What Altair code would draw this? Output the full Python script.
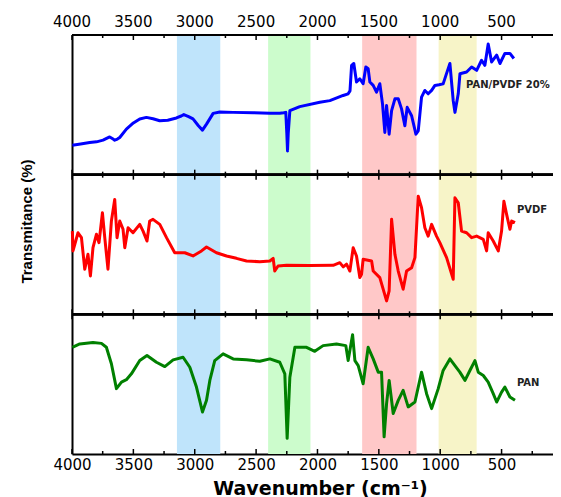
import altair as alt
import pandas as pd

# ---------------- data ----------------
SERIES = ["PAN/PVDF 20%", "PVDF", "PAN"]
COLORS = ["#0000FF", "#FF0000", "#008000"]
OFFSETS = [2, 1, 0]  # stacking position of each spectrum (panel index)

# (wavenumber cm-1, relative transmittance within the panel, 0-100)
PANPVDF = [
    (3997, 21.1), (3930, 22), (3856, 23), (3800, 23.5), (3747, 24.7), (3693, 27),
    (3665, 25.5), (3652, 24.7), (3630, 25.5), (3611, 26.6), (3557, 32.6), (3500, 37),
    (3448, 39.9), (3394, 41), (3340, 40), (3285, 38.6), (3220, 39), (3149, 40.6),
    (3110, 42), (3089, 43), (3050, 41.5), (3014, 39.9), (2970, 35), (2937, 31.9),
    (2904, 36.2), (2870, 41), (2850, 43.9), (2796, 44.9), (2687, 44.6), (2524, 44.4),
    (2388, 43.9), (2307, 43.9), (2275, 44.3), (2258, 44.6), (2250, 30), (2244, 17),
    (2238, 30), (2225, 45.8), (2144, 48.7), (1981, 51.8), (1899, 53), (1791, 56.7),
    (1750, 57.9), (1735, 60), (1722, 78.3), (1704, 79.6), (1682, 66.3), (1655, 68.7),
    (1628, 65.1), (1606, 77.1), (1587, 75.8), (1573, 66.3), (1546, 63.9), (1519, 59.1),
    (1492, 65.1), (1470, 50.7), (1451, 30.2), (1437, 49.5), (1416, 29), (1396, 45.8),
    (1369, 54.3), (1342, 54.3), (1315, 47.1), (1288, 35), (1269, 48.2), (1233, 42.2),
    (1198, 29), (1179, 31.4), (1152, 55.5), (1125, 60.3), (1098, 57.9), (1070, 60.3),
    (1043, 63.9), (1010, 64.4), (976, 65), (950, 72), (921, 79.6), (894, 53),
    (880, 44.6), (853, 57.9), (839, 72.3), (785, 73.5), (744, 77.1), (703, 74.7),
    (663, 81.9), (636, 78.3), (609, 93.5), (581, 80.7), (540, 85.6), (513, 79.6),
    (473, 86.8), (432, 86.8), (400, 83.2),
]

PVDF = [
    (3997, 59.6), (3992, 45.4), (3951, 58.4), (3923, 54.9), (3896, 32.3), (3870, 43),
    (3850, 27.5), (3829, 47.7), (3801, 57.3), (3780, 51.3), (3752, 72.7), (3733, 54.9),
    (3707, 32.3), (3679, 66.8), (3652, 82.3), (3633, 54.9), (3611, 66.8), (3584, 60.9),
    (3570, 47.7), (3543, 62), (3503, 58.4), (3448, 64.4), (3421, 59.6), (3389, 52.5),
    (3367, 66.8), (3340, 68), (3285, 64.4), (3230, 54.9), (3163, 44.1), (3081, 44.1),
    (3014, 41.8), (2945, 45.4), (2904, 48.2), (2823, 44.1), (2741, 41.8), (2660, 40.1),
    (2578, 38.2), (2470, 37.7), (2388, 38.2), (2361, 40.1), (2348, 31), (2321, 34.6),
    (2252, 35.1), (2062, 34.9), (1872, 35.1), (1818, 37), (1790, 34), (1763, 35.9),
    (1736, 31), (1709, 47.7), (1682, 41.8), (1655, 26.3), (1641, 28.7), (1628, 39.4),
    (1559, 38.2), (1546, 31), (1492, 26.3), (1437, 9.6), (1416, 16.8), (1396, 68),
    (1369, 43), (1342, 31), (1302, 18), (1274, 31), (1233, 33.4), (1206, 40.6),
    (1179, 84.6), (1152, 76.3), (1125, 62), (1098, 56), (1070, 64.4), (1030, 56),
    (1003, 51.3), (948, 40.6), (894, 25.1), (880, 83.4), (853, 79.9), (826, 59.6),
    (785, 58.4), (744, 54.9), (703, 56), (649, 53.7), (622, 45.4), (609, 58.4),
    (568, 52.5), (527, 45.4), (500, 59.6), (481, 81), (459, 71.6), (432, 60.9),
    (418, 66.8), (391, 65.6),
]

PAN = [
    (3997, 76.4), (3937, 78.8), (3829, 79.9), (3760, 79.2), (3720, 76.4), (3679, 64.6),
    (3638, 46.8), (3597, 51.5), (3557, 53.2), (3516, 57.4), (3448, 66.9), (3389, 70.5),
    (3312, 65.7), (3244, 62.6), (3176, 67.4), (3095, 69.3), (3040, 62.1), (2986, 47.9),
    (2937, 30.1), (2904, 38.4), (2877, 52.7), (2837, 66.9), (2769, 71.7), (2687, 68.1),
    (2578, 67.4), (2470, 66.4), (2388, 68.1), (2307, 65.7), (2266, 57.4), (2247, 11.2),
    (2225, 55), (2184, 76.4), (2089, 76.4), (2022, 73.5), (1954, 77.6), (1845, 78.8),
    (1769, 77.6), (1750, 66.9), (1714, 85.4), (1695, 66.9), (1668, 63.3), (1628, 50.3),
    (1587, 76.4), (1546, 68.1), (1505, 58.6), (1478, 58.6), (1457, 12.3), (1437, 36.1),
    (1416, 52.7), (1383, 29), (1342, 38.4), (1302, 45.6), (1261, 33.7), (1206, 37.2),
    (1152, 58.6), (1111, 43.2), (1070, 32.5), (1016, 46.8), (976, 59.8), (921, 68.1),
    (880, 63.3), (840, 58.6), (798, 52.7), (758, 59.8), (717, 66.9), (690, 58.6),
    (649, 56.2), (609, 51.5), (568, 43.2), (540, 37.2), (500, 44.3), (473, 47.9),
    (432, 40.8), (391, 38.4),
]

# highlighted regions (cm-1)
BAND_START = [3145, 2402, 1636, 1013]
BAND_END = [2792, 2057, 1193, 703]
BAND_COLORS = ["#bfe4fb", "#ccfccc", "#ffc8c8", "#f7f4c8"]

# series labels (text, wavenumber, stacked y)
LABEL_TEXT = ["PAN/PVDF 20%", "PVDF", "PAN"]
LABEL_WN = [790, 375, 375]
LABEL_Y = [2.64, 1.75, 0.505]

MAJOR_TICKS = [4000, 3500, 3000, 2500, 2000, 1500, 1000, 500]
MINOR_TICKS = [3750, 3250, 2750, 2250, 1750, 1250, 750, 250]

# ---------------- tables ----------------
rows = []
for name, pts, off in zip(SERIES, [PANPVDF, PVDF, PAN], OFFSETS):
    for wn, v in pts:
        rows.append({"series": name, "wn": wn, "y": off + v / 100.0})
spectra = pd.DataFrame(rows)

bands = pd.DataFrame({"wn": BAND_START, "end": BAND_END, "color": BAND_COLORS})
labels = pd.DataFrame({"text": LABEL_TEXT, "wn": LABEL_WN, "y": LABEL_Y})
major = pd.DataFrame({"wn": MAJOR_TICKS})
minor = pd.DataFrame({"wn": MINOR_TICKS})

XS = alt.Scale(domain=[4000, 81], nice=False, zero=False)
YS = alt.Scale(domain=[0, 3], nice=False, zero=False)
FONT = "DejaVu Sans"

Y_AXIS = alt.Axis(
    title="Transmitance (%)", labels=False, ticks=False, grid=False,
    domainColor="black", domainWidth=2,
    titleFont="Liberation Sans", titleFontWeight="bold", titleFontSize=15,
    titleColor="black", titleAngle=270, titleX=-46, titleY=186,
    titleAlign="center", titleBaseline="middle",
)
X_AXIS = alt.Axis(
    title="Wavenumber (cm⁻¹)", values=MAJOR_TICKS, format="d", ticks=False,
    tickSize=0, grid=False, domainColor="black", domainWidth=2,
    labelFont=FONT, labelFontSize=15, labelColor="black", labelPadding=3,
    labelFlush=False, labelOverlap=False,
    titleFont=FONT, titleFontWeight="bold", titleFontSize=19, titleColor="black",
    titleX=248, titleY=40, titleAlign="center", titleBaseline="alphabetic",
)


def X(field="wn:Q"):
    return alt.X(field, scale=XS, axis=X_AXIS)


band_layer = alt.Chart(bands).mark_rect(opacity=1).encode(
    x=X(),
    x2="end:Q",
    y=alt.Y(datum=3, scale=YS),
    y2=alt.Y2(datum=0),
    color=alt.Color("color:N", scale=None, legend=None),
)

line_layer = alt.Chart(spectra).mark_line(strokeWidth=3, strokeJoin="round").encode(
    x=X(),
    y=alt.Y("y:Q", scale=YS, axis=Y_AXIS),
    color=alt.Color("series:N", scale=alt.Scale(domain=SERIES, range=COLORS), legend=None),
    detail="series:N",
)

frame_layers = [
    alt.Chart(major).mark_rule(color="black", strokeWidth=2).encode(y=alt.Y(datum=b, scale=YS))
    for b in [1, 2, 3]
]

tick_layers = []
for df, L in [(major, 5), (minor, 3)]:
    # top border: ticks pointing down
    tick_layers.append(
        alt.Chart(df).mark_rule(color="black", strokeWidth=1.5, y2Offset=L).encode(
            x=X(), y=alt.Y(datum=3, scale=YS), y2=alt.Y2(datum=3)))
    # bottom border: ticks pointing up
    tick_layers.append(
        alt.Chart(df).mark_rule(color="black", strokeWidth=1.5, y2Offset=-L).encode(
            x=X(), y=alt.Y(datum=0, scale=YS), y2=alt.Y2(datum=0)))
    # separators: ticks both ways
    for b in [1, 2]:
        tick_layers.append(
            alt.Chart(df).mark_rule(color="black", strokeWidth=1.5, yOffset=-L, y2Offset=L).encode(
                x=X(), y=alt.Y(datum=b, scale=YS), y2=alt.Y2(datum=b)))

top_labels = alt.Chart(major).mark_text(
    font=FONT, fontSize=15, color="black", dy=-13, baseline="middle", align="center"
).encode(
    x=X(),
    y=alt.Y(datum=3, scale=YS),
    text=alt.Text("wn:Q", format="d"),
)

series_labels = alt.Chart(labels).mark_text(
    font=FONT, fontSize=10, fontWeight="bold", color="#222222", align="left", baseline="middle"
).encode(
    x=X(),
    y=alt.Y("y:Q", scale=YS, axis=Y_AXIS),
    text="text:N",
)

chart = alt.layer(
    band_layer, line_layer, *frame_layers, *tick_layers, top_labels, series_labels
).properties(
    width=481, height=419,
    autosize=alt.AutoSizeParams(type="none"),
    padding={"left": 64, "top": 27, "right": 0, "bottom": 43},
    background="white",
).configure_view(stroke=None)

chart.save("out.html", embed_options={"renderer": "svg", "actions": False})
